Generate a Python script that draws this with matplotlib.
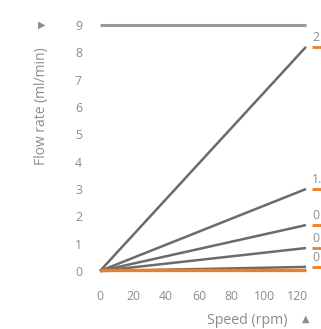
import matplotlib
matplotlib.use("Agg")
import matplotlib.pyplot as plt
from matplotlib.transforms import blended_transform_factory

plt.rcParams['font.family'] = ['Open Sans', 'DejaVu Sans']

# Data
speed = [0, 125]
max_line = [9, 9]
series_values = [
    [0, 8.2],
    [0, 3.0],
    [0, 1.68],
    [0, 0.84],
    [0, 0.15],
]
orange_values = [0.02, 0.02]
end_labels = ["2", "1.", "0", "0", "0"]
x_ticks = [0, 20, 40, 60, 80, 100, 120]
y_ticks = [0, 1, 2, 3, 4, 5, 6, 7, 8, 9]

W, H = 321, 329
fig = plt.figure(figsize=(W / 100, H / 100), dpi=100)
ax = fig.add_axes([100 / W, (H - 271) / H, (306 - 100) / W, (271 - 25) / H])
ax.set_xlim(0, 125)
ax.set_ylim(0, 9)
for s in ax.spines.values():
    s.set_visible(False)

gray = '#6b6b6b'
ax.plot(speed, max_line, color='#9a9a9a', lw=2.2, clip_on=False, solid_capstyle='butt')
for vals in series_values:
    ax.plot(speed, vals, color=gray, lw=1.8, clip_on=False, solid_capstyle='butt')
ax.plot(speed, orange_values, color='#f07d1e', lw=2.4, clip_on=False, solid_capstyle='butt')

ax.set_xticks(x_ticks)
ax.set_yticks(y_ticks)
ax.tick_params(axis='both', length=0, colors='#8c8c8c', labelsize=8.8)
ax.tick_params(axis='x', pad=14)
ax.tick_params(axis='y', pad=13)

# End labels with orange underline
tr = blended_transform_factory(fig.transFigure, ax.transData)
for vals, lab in zip(series_values, end_labels):
    yv = vals[-1]
    fig.text(312 / W, yv + 0.12, lab, transform=tr, fontsize=8.8, color='#8c8c8c',
             ha='left', va='bottom')
    ax.plot([312 / W, 321 / W], [yv, yv], transform=tr, color='#f07d1e', lw=2.0,
            clip_on=False, solid_capstyle='butt')

fig.text(42 / W, 1 - 106 / H, 'Flow rate (ml/min)', rotation=90, ha='center', va='center',
         fontsize=10, color='#8c8c8c')
fig.text(42 / W, 1 - 25 / H, '\u25B6', ha='center', va='center', fontsize=7,
         color='#8c8c8c', family='DejaVu Sans')
fig.text(247 / W, 1 - 321 / H, 'Speed (rpm)', ha='center', va='center',
         fontsize=10.2, color='#8c8c8c')
fig.text(306 / W, 1 - 319 / H, '\u25B2', ha='center', va='center', fontsize=7,
         color='#8c8c8c', family='DejaVu Sans')

fig.savefig('out.png', dpi=100)
